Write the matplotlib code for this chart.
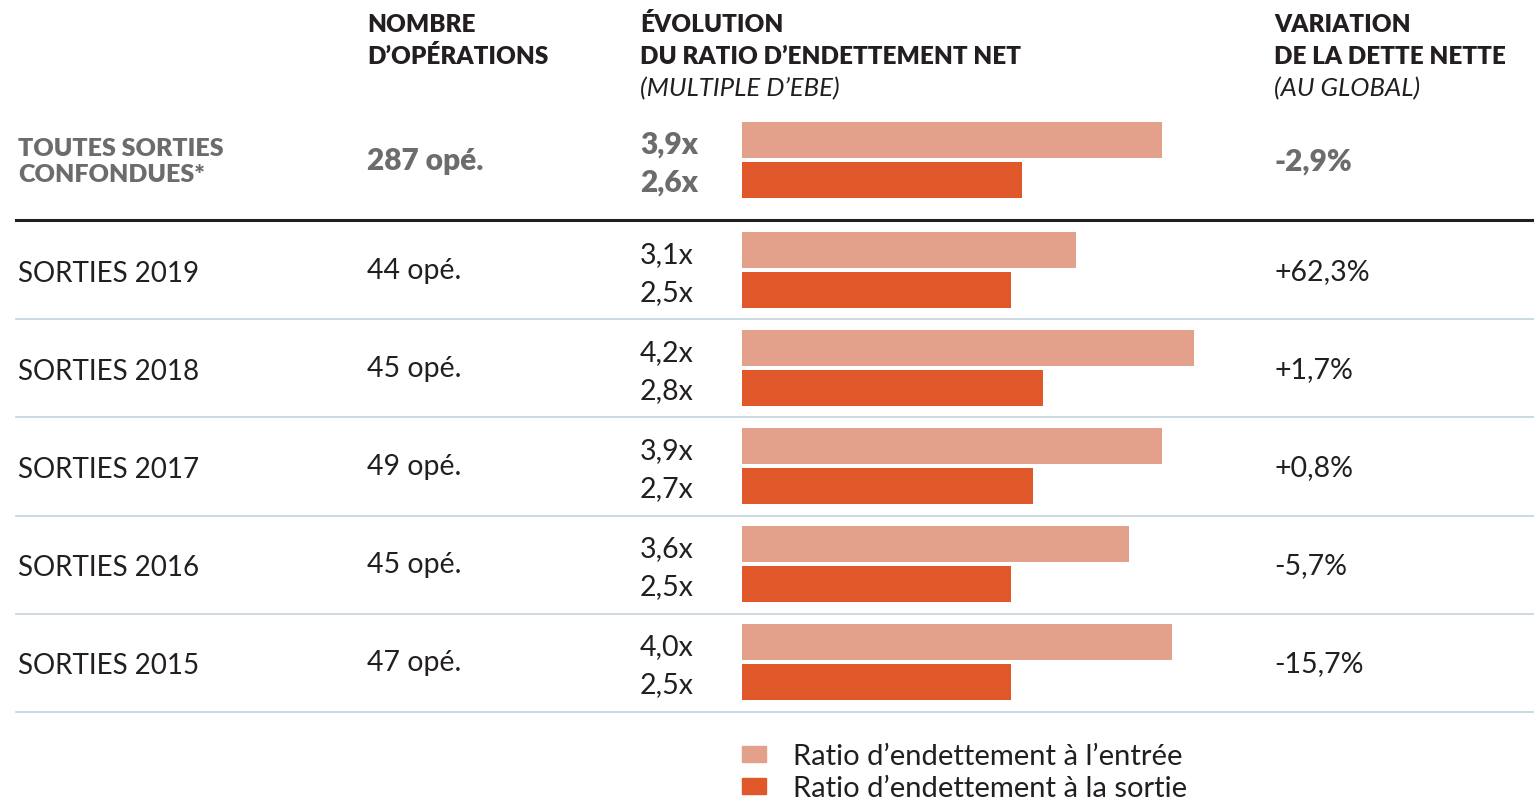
import numpy as np
import matplotlib.pyplot as plt

# data
categories = ["TOUTES SORTIES\nCONFONDUES*", "SORTIES 2019", "SORTIES 2018",
              "SORTIES 2017", "SORTIES 2016", "SORTIES 2015"]
operations = [287, 44, 45, 49, 45, 47]
ratio_entry = [3.9, 3.1, 4.2, 3.9, 3.6, 4.0]
ratio_exit = [2.6, 2.5, 2.8, 2.7, 2.5, 2.5]
variation = [-2.9, 62.3, 1.7, 0.8, -5.7, -15.7]
legend_labels = ["Ratio d\u2019endettement \u00e0 l\u2019entr\u00e9e",
                 "Ratio d\u2019endettement \u00e0 la sortie"]

c_entry = '#E3A08A'
c_exit = '#E0572A'
dark = '#231F20'
grey = '#6E6C6B'
plt.rcParams['font.family'] = ['Lato', 'DejaVu Sans']

W, H = 1534, 803
fig = plt.figure(figsize=(W / 100, H / 100), dpi=100)

# overlay in pixel units for text and rules
tx = fig.add_axes([0, 0, 1, 1])
tx.set_xlim(0, W)
tx.set_ylim(H, 0)
tx.axis('off')

# bar axes: x in ratio units, y in the same pixel rows
x0, scale = 742, 107.6
bx = fig.add_axes([0, 0, 1, 1])
bx.set_xlim(-x0 / scale, (W - x0) / scale)
bx.set_ylim(H, 0)
bx.axis('off')

def fmt(v):
    return ('%.1f' % v).replace('.', ',')

centers = [161] + [271 + 98 * i for i in range(5)]
bh = 36

for i, cy in enumerate(centers):
    bx.barh(cy - 20, ratio_entry[i], height=bh, left=0, color=c_entry)
    bx.barh(cy + 20, ratio_exit[i], height=bh, left=0, color=c_exit)

    first = (i == 0)
    col = grey if first else dark
    wt = 'heavy' if first else 'normal'
    sz = 21.5 if first else 20.5
    if first:
        tx.text(18, cy - 12, "TOUTES SORTIES", fontsize=18, color=col, weight=wt, va='center')
        tx.text(18, cy + 14, "CONFONDUES*", fontsize=18, color=col, weight=wt, va='center')
    else:
        tx.text(18, cy + 3, categories[i], fontsize=20, color=col, weight=wt, va='center')
    tx.text(367, cy, "%d op\u00e9." % operations[i], fontsize=sz, color=col, weight=wt, va='center')
    tx.text(640, cy - 16, fmt(ratio_entry[i]) + 'x', fontsize=sz, color=col, weight=wt, va='center')
    tx.text(640, cy + 22, fmt(ratio_exit[i]) + 'x', fontsize=sz, color=col, weight=wt, va='center')
    vs = ('+' if variation[i] > 0 else '-') + fmt(abs(variation[i])) + '%'
    tx.text(1274, cy + 1, vs, fontsize=sz, color=col, weight=wt, va='center')

# rules
tx.plot([16, W], [221, 221], color=dark, lw=2.2)
for i in range(5):
    y = 320 + 98.3 * i
    tx.plot([16, W], [y, y], color='#C5D3DD', lw=1.2)

# column headers
hs = 17.5
tx.text(367, 25, "NOMBRE", fontsize=hs, weight='heavy', color=dark, va='center')
tx.text(367, 57, "D\u2019OP\u00c9RATIONS", fontsize=hs, weight='heavy', color=dark, va='center')
tx.text(640, 25, "\u00c9VOLUTION", fontsize=hs, weight='heavy', color=dark, va='center')
tx.text(640, 57, "DU RATIO D\u2019ENDETTEMENT NET", fontsize=hs, weight='heavy', color=dark, va='center')
tx.text(640, 89, "(MULTIPLE D\u2019EBE)", fontsize=18.5, style='italic', color=dark, va='center')
tx.text(1274, 25, "VARIATION", fontsize=hs, weight='heavy', color=dark, va='center')
tx.text(1274, 57, "DE LA DETTE NETTE", fontsize=hs, weight='heavy', color=dark, va='center')
tx.text(1274, 89, "(AU GLOBAL)", fontsize=18.5, style='italic', color=dark, va='center')

# legend
for j, (lab, c) in enumerate(zip(legend_labels, [c_entry, c_exit])):
    ly = 755 + 32 * j
    tx.add_patch(plt.Rectangle((742, ly - 8), 24, 16, color=c))
    tx.text(793, ly + 2, lab, fontsize=21, color=dark, va='center')

fig.savefig('out.png', dpi=100)
